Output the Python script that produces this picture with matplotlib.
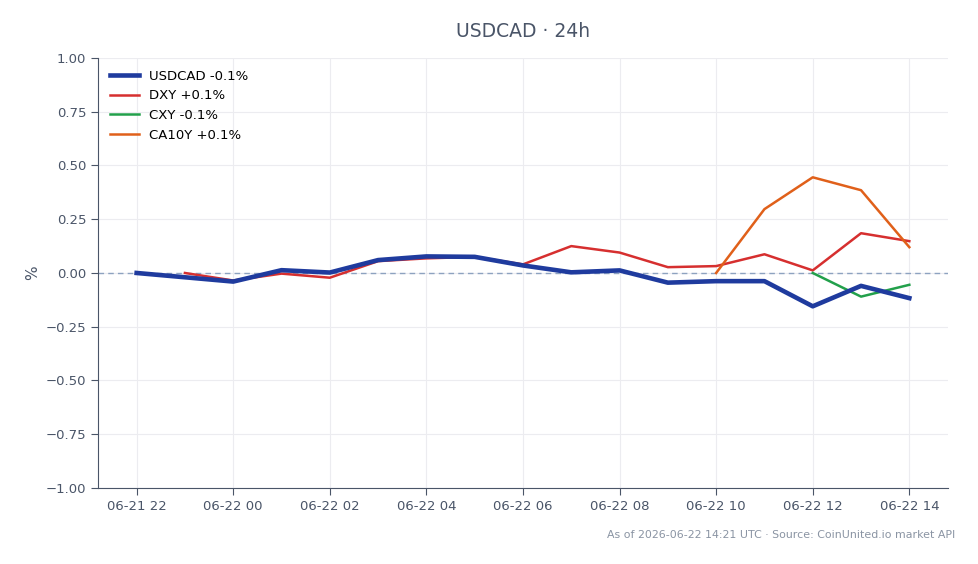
import numpy as np
import pandas as pd
import matplotlib
matplotlib.use("Agg")
import matplotlib.pyplot as plt

hours = pd.date_range("2026-06-21 22:00", "2026-06-22 14:00", freq="h")
tick_labels = ["06-21 22", "06-22 00", "06-22 02", "06-22 04", "06-22 06",
               "06-22 08", "06-22 10", "06-22 12", "06-22 14"]

nan = np.nan
usdcad = [0.0, -0.02, -0.04, 0.013, 0.002, 0.06, 0.077, 0.075, 0.035,
          0.003, 0.012, -0.045, -0.038, -0.038, -0.155, -0.06, -0.117]
dxy = [nan, 0.0, -0.035, -0.003, -0.022, 0.055, 0.068, 0.075, 0.04,
       0.125, 0.095, 0.027, 0.032, 0.087, 0.012, 0.185, 0.148]
cxy = [nan] * 14 + [0.0, -0.11, -0.055]
ca10y = [nan] * 12 + [0.0, 0.297, 0.445, 0.385, 0.12]

text_col = "#4a5568"

fig = plt.figure(figsize=(9.79, 5.64), dpi=100)
ax = fig.add_axes([0.1001, 0.1348, 0.8682, 0.7624])

x = np.arange(len(hours))
ax.axhline(0, color="#8da2c0", lw=1, ls=(0, (4, 3)), zorder=1)
ax.plot(x, usdcad, color="#1f3b9e", lw=3.3, label="USDCAD -0.1%", zorder=5)
ax.plot(x, dxy, color="#d62f2f", lw=1.8, label="DXY +0.1%", zorder=4)
ax.plot(x, cxy, color="#22a04b", lw=1.8, label="CXY -0.1%", zorder=4)
ax.plot(x, ca10y, color="#e0601a", lw=1.8, label="CA10Y +0.1%", zorder=4)

ax.set_ylim(-1, 1)
ax.set_yticks(np.arange(-1, 1.01, 0.25))
ax.set_yticklabels([f"{v:.2f}".replace("-", "\u2212") for v in np.arange(-1, 1.01, 0.25)])
ax.set_xticks(x[::2])
ax.set_xticklabels(tick_labels)
ax.margins(x=0.05)

ax.grid(True, color="#ececf0", lw=0.8)
ax.set_axisbelow(True)
for s in ["top", "right"]:
    ax.spines[s].set_visible(False)
for s in ["left", "bottom"]:
    ax.spines[s].set_color(text_col)
ax.tick_params(colors=text_col, labelsize=9.5, length=5)
ax.set_ylabel("%", color=text_col, fontsize=11)

ax.set_title("USDCAD \u00b7 24h", color=text_col, fontsize=13.5, pad=15)
ax.legend(loc="upper left", frameon=False, fontsize=9.5, handlelength=2.2)

fig.text(0.976, 0.051, "As of 2026-06-22 14:21 UTC \u00b7 Source: CoinUnited.io market API",
         ha="right", va="center", color="#8a94a3", fontsize=7.9)

fig.savefig("out.png", dpi=100)
